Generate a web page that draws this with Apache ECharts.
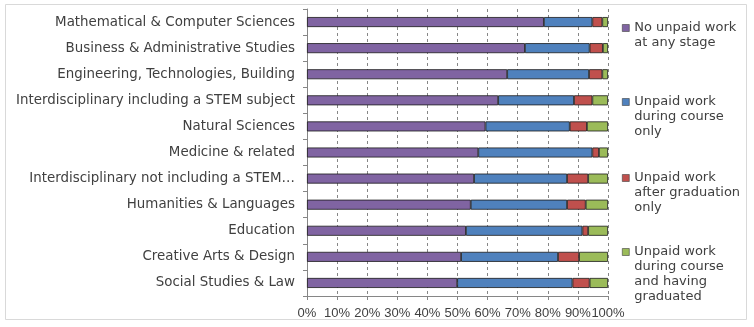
<!DOCTYPE html>
<html>
<head>
<meta charset="utf-8">
<script src="https://cdn.jsdelivr.net/npm/echarts@6/dist/echarts.min.js"></script>
<style>
  html, body { margin: 0; padding: 0; background: #fff; }
  #chart { width: 754px; height: 327px; }
</style>
</head>
<body>
<div id="chart"></div>
<script>
// Subject areas, top to bottom
const subjects = [
  'Mathematical & Computer Sciences',
  'Business & Administrative Studies',
  'Engineering, Technologies, Building',
  'Interdisciplinary including a STEM subject',
  'Natural Sciences',
  'Medicine & related',
  'Interdisciplinary not including a STEM\u2026',
  'Humanities & Languages',
  'Education',
  'Creative Arts & Design',
  'Social Studies & Law'
];

// Share of graduates (%) in each unpaid-work group
const noUnpaid      = [78.7, 72.4, 66.5, 63.5, 59.3, 56.9, 55.5, 54.4, 52.8, 51.2, 49.9];
const duringCourse  = [16.1, 21.5, 27.2, 25.2, 28.0, 37.9, 30.9, 32.0, 38.7, 32.2, 38.3];
const afterGrad     = [3.3, 4.4, 4.4, 6.1, 5.7, 2.2, 7.0, 6.2, 1.9, 7.0, 5.7];
const duringAndAfter = [1.9, 1.7, 1.9, 5.2, 7.0, 3.0, 6.6, 7.4, 6.6, 9.6, 6.1];

const seriesNames = [
  'No unpaid work\nat any stage',
  'Unpaid work\nduring course\nonly',
  'Unpaid work\nafter graduation\nonly',
  'Unpaid work\nduring course\nand having\ngraduated'
];
const seriesData = [noUnpaid, duringCourse, afterGrad, duringAndAfter];
const colors = ['#8064A2', '#4F81BD', '#C0504D', '#9BBB59'];
// first-line centre of each legend entry
const legendFirstLine = [28, 102, 178, 252];

const FONT = 'DejaVu Sans, Liberation Sans, Arial, sans-serif';
const AXIS_FONT = 'Liberation Sans, Arial, sans-serif';
const TEXT = '#404040';
const LINE_H = 15;

const chart = echarts.init(document.getElementById('chart'), null, { renderer: 'canvas' });

// One legend per series so each entry can hang its text below the marker
const legends = seriesNames.map((name, i) => {
  const lines = name.split('\n').length;
  const blankAbove = '\n'.repeat(lines - 1);
  return {
    data: [name],
    orient: 'vertical',
    left: 622,
    top: legendFirstLine[i] - (2 * lines - 1) * LINE_H / 2,
    padding: 0,
    itemWidth: 7,
    itemHeight: 7,
    icon: 'rect',
    selectedMode: false,
    formatter: n => blankAbove + n,
    itemStyle: { borderColor: '#404040', borderWidth: 0.6 },
    textStyle: {
      fontFamily: FONT,
      fontSize: 13,
      color: TEXT,
      lineHeight: LINE_H
    }
  };
});

chart.setOption({
  animation: false,
  backgroundColor: '#fff',
  color: colors,
  graphic: [{
    type: 'rect',
    shape: { x: 5.5, y: 4.5, width: 741, height: 315 },
    style: { fill: 'none', stroke: '#d9d9d9', lineWidth: 1 },
    silent: true,
    z: -1
  }],
  legend: legends,
  grid: { left: 307, right: 146, top: 9, bottom: 31, containLabel: false },
  xAxis: {
    type: 'value',
    min: 0,
    max: 100,
    interval: 10,
    axisLine: { show: true, lineStyle: { color: '#868686', width: 1 } },
    axisTick: { show: true, length: 4, lineStyle: { color: '#868686' } },
    splitLine: { show: true, lineStyle: { color: '#868686', type: [3, 3], width: 1 } },
    axisLabel: {
      formatter: '{value}%',
      fontFamily: AXIS_FONT,
      fontSize: 13,
      color: TEXT,
      margin: 11,
      showMinLabel: true,
      showMaxLabel: true,
      hideOverlap: false
    }
  },
  yAxis: {
    type: 'category',
    data: subjects,
    inverse: true,
    axisLine: { show: true, lineStyle: { color: '#868686', width: 1 } },
    axisTick: { show: true, length: 4, lineStyle: { color: '#868686' } },
    splitLine: { show: false },
    axisLabel: {
      fontFamily: FONT,
      fontSize: 13.4,
      color: TEXT,
      margin: 12
    }
  },
  series: seriesNames.map((name, i) => ({
    name: name,
    type: 'bar',
    stack: 'total',
    barWidth: 10,
    data: seriesData[i],
    itemStyle: { color: colors[i], borderColor: '#1a1a1a', borderWidth: 0.8 }
  }))
});
</script>
</body>
</html>
